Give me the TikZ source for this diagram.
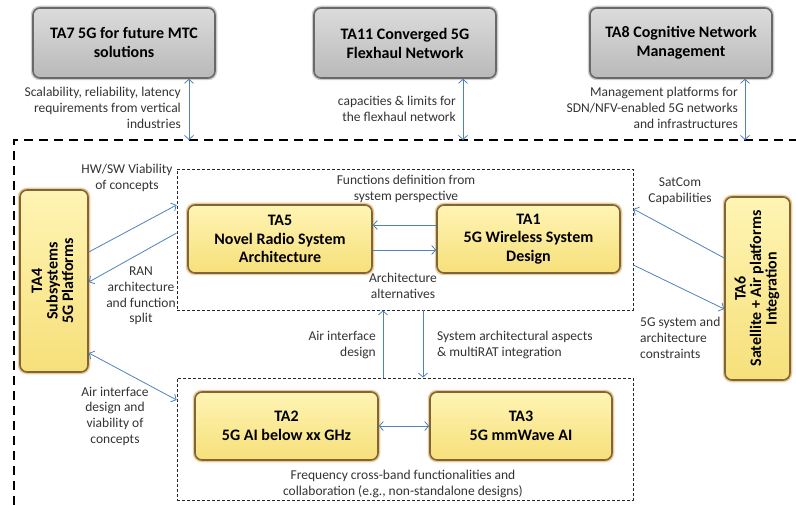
\documentclass[tikz,border=0pt]{standalone}
\usepackage{fontspec}
\setmainfont{Carlito}
\usepackage{graphicx}
\usetikzlibrary{arrows.meta}

\definecolor{linkblue}{RGB}{79,129,189}
\definecolor{tatop}{RGB}{255,244,180}
\definecolor{tabot}{RGB}{246,224,122}
\definecolor{taedge}{RGB}{122,104,58}
\definecolor{taglow}{RGB}{244,200,150}
\definecolor{grtop}{RGB}{220,220,220}
\definecolor{grbot}{RGB}{185,185,185}
\definecolor{gredge}{RGB}{105,105,105}
\definecolor{grglow}{RGB}{205,205,205}

\begin{document}
\begin{tikzpicture}[x=1pt, y=-1pt,
	>={Straight Barb[length=4pt,width=9pt]},
	tabox/.style={draw=taedge, line width=1.6pt, rounded corners=7pt, top color=tatop, bottom color=tabot,
		preaction={draw=taglow, line width=4.5pt}, align=center, inner sep=0pt,
		font=\fontsize{16}{18.5}\selectfont\bfseries},
	graybox/.style={draw=gredge, line width=1.6pt, rounded corners=7pt, top color=grtop, bottom color=grbot,
		preaction={draw=grglow, line width=4.5pt}, align=center, inner sep=0pt,
		minimum width=182pt, minimum height=70pt, font=\fontsize{16}{19}\selectfont\bfseries},
	groupbox/.style={draw=black!85, line width=0.8pt, dash pattern=on 3pt off 2pt, inner sep=0pt},
	frame/.style={draw=black, line width=2.2pt, dash pattern=on 9pt off 6pt},
	link/.style={draw=linkblue, line width=0.8pt},
	note/.style={text=black!80, inner sep=0pt, font=\fontsize{13.5}{15.7}\selectfont}]
	\useasboundingbox (0,0) rectangle (796,505);

	% outer frame
	\draw[frame] (14,505) -- (14,140) -- (796,140);
	\coordinate (e7) at (189,140);
	\coordinate (e11) at (463,140);
	\coordinate (e8) at (745,140);

	% top work packages
	\node[graybox] (ta7) at (124,43) {TA7 5G for future MTC\\solutions};
	\node[graybox] (ta11) at (405,43) {TA11 Converged 5G\\Flexhaul Network};
	\node[graybox] (ta8) at (681,43) {TA8 Cognitive Network\\Management};

	% groups
	\node[groupbox, minimum width=456pt, minimum height=141pt] (up) at (405,239.5) {};
	\node[groupbox, minimum width=456pt, minimum height=122pt] (low) at (405,439) {};

	% core boxes
	\node[tabox, minimum width=184pt, minimum height=68pt] (ta5) at (280,239) {TA5\\Novel Radio System\\Architecture};
	\node[tabox, minimum width=183pt, minimum height=68pt] (ta1) at (528.5,239) {TA1\\5G Wireless System\\Design};
	\node[tabox, minimum width=183pt, minimum height=68pt] (ta2) at (286.5,426) {TA2\\5G AI below xx GHz};
	\node[tabox, minimum width=182pt, minimum height=68pt] (ta3) at (521,426) {TA3\\5G mmWave AI};
	\node[tabox, minimum width=68pt, minimum height=182pt] (ta4) at (54,281)
		{\rotatebox{90}{\begin{tabular}{@{}c@{}}TA4\\[-3pt]Subsystems\\[-3pt]5G Platforms\end{tabular}}};
	\node[tabox, minimum width=65pt, minimum height=183pt] (ta6) at (757.5,288.5)
		{\rotatebox{90}{\begin{tabular}{@{}c@{}}TA6\\[-3pt]Satellite + Air platforms\\[-3pt]Integration\end{tabular}}};

	% connectors
	\draw[link, <->] (ta7.south -| e7) -- (e7);
	\draw[link, <->] (ta11.south -| e11) -- (e11);
	\draw[link, <->] (ta8.south -| e8) -- (e8);
	\draw[link, ->] ([yshift=14pt]ta1.west) -- ([yshift=14pt]ta5.east);
	\draw[link, ->] ([yshift=-11pt]ta5.east) -- ([yshift=-11pt]ta1.west);
	\draw[link, ->] (ta4.east |- 0,252) -- (up.west |- 0,205);
	\draw[link, ->] (up.west |- 0,233) -- (ta4.east |- 0,282);
	\draw[link, <->] (ta4.east |- 0,353) -- (low.west |- 0,400);
	\draw[link, ->] (ta6.west |- 0,258) -- (up.east |- 0,209);
	\draw[link, ->] (up.east |- 0,265) -- (ta6.west |- 0,309);
	\draw[link, ->] (low.north -| 383,0) -- (up.south -| 383,0);
	\draw[link, ->] (up.south -| 423,0) -- (low.north -| 423,0);
	\draw[link, <->] (ta2.east) -- (ta3.west);

	% labels
	\node[note, align=right, anchor=east] (n7) at (181,108) {Scalability, reliability, latency\\requirements from vertical\\industries};
	\node[note, align=right, anchor=east] (n11) at (456,109) {capacities \& limits for\\the flexhaul network};
	\node[note, align=right, anchor=east] (n8) at (738,108) {Management platforms for\\SDN/NFV-enabled 5G networks\\and infrastructures};
	\node[note, align=center] (nfun) at (406,189) {Functions definition from\\system perspective};
	\node[note, align=center] (narch) at (403,286) {Architecture\\alternatives};
	\node[note, align=center] (nhw) at (127,178) {HW/SW Viability\\of concepts};
	\node[note, align=center] (nran) at (141,296) {RAN\\architecture\\and function\\split};
	\node[note, align=center] (nair) at (115,416) {Air interface\\design and\\viability of\\concepts};
	\node[note, align=right, anchor=east] (naid) at (376,345) {Air interface\\design};
	\node[note, align=left, anchor=west] (nsys) at (437,345) {System architectural aspects\\\& multiRAT integration};
	\node[note, align=center] (nfreq) at (403,484) {Frequency cross-band functionalities and\\collaboration (e.g., non-standalone designs)};
	\node[note, align=center] (nsat) at (680,191) {SatCom\\Capabilities};
	\node[note, align=left, anchor=west] (n5g) at (640,338) {5G system and\\architecture\\constraints};
\end{tikzpicture}
\end{document}
